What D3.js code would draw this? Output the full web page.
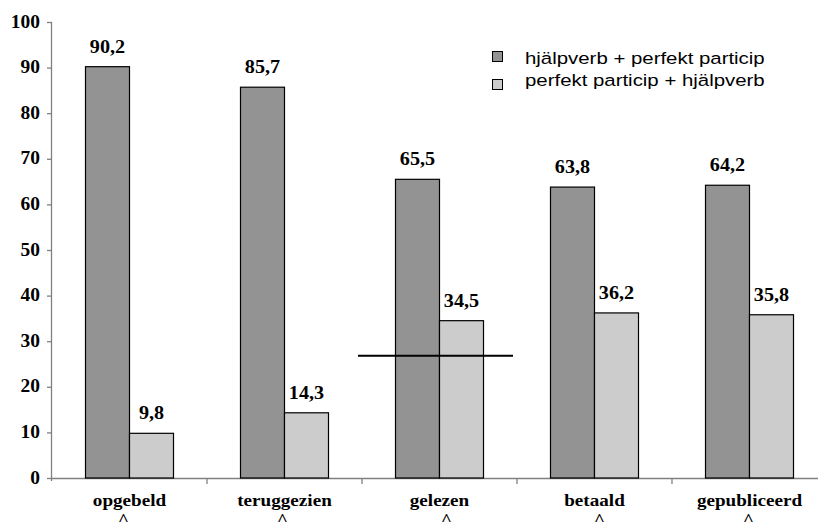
<!DOCTYPE html>
<html>
<head>
<meta charset="utf-8">
<script src="https://cdn.jsdelivr.net/npm/d3@7"></script>
<style>
  html, body { margin: 0; padding: 0; background: #fff; }
  svg { display: block; }
</style>
</head>
<body>
<svg id="chart" width="818" height="523"></svg>
<script>
// Word categories and the share (%) of each word order
const categories = ["opgebeld", "teruggezien", "gelezen", "betaald", "gepubliceerd"];
const seriesNames = ["hjälpverb + perfekt particip", "perfekt particip + hjälpverb"];
const auxFirst = [90.2, 85.7, 65.5, 63.8, 64.2];
const partFirst = [9.8, 14.3, 34.5, 36.2, 35.8];
const yTicks = [0, 10, 20, 30, 40, 50, 60, 70, 80, 90, 100];
// reference level drawn across the "gelezen" group
const refCategory = "gelezen";
const refValue = 26.8;

const colors = ["#939393", "#cccccc"];
const serif = "'Liberation Serif', 'Times New Roman', serif";
const sans = "'Liberation Sans', Arial, sans-serif";

const svg = d3.select("#chart");
const plotLeft = 52, plotTop = 22, plotBottom = 478, step = 155;
const plotRight = plotLeft + step * categories.length;

const x0 = d3.scaleBand().domain(categories).range([plotLeft, plotRight])
  .paddingInner(67 / 155).paddingOuter(67 / 310);
const x1 = d3.scaleBand().domain([0, 1]).range([0, x0.bandwidth()]);
const y = d3.scaleLinear().domain([0, 100]).range([plotBottom, plotTop]);

const fmt = v => d3.format(".1f")(v).replace(".", ",");

// text helper with a slight horizontal widening of the glyphs
function wtext(g, x, yy, str, opts) {
  return g.append("text")
    .attr("transform", `translate(${x},${yy}) scale(${opts.sx || 1.1},1)`)
    .attr("text-anchor", opts.anchor || "middle")
    .attr("font-family", opts.family || serif)
    .attr("font-weight", opts.weight || "bold")
    .attr("font-size", opts.size || 18)
    .attr("fill", "#000")
    .text(str);
}

// Y axis
const yAxis = svg.append("g")
  .attr("transform", `translate(${plotLeft},0)`)
  .call(d3.axisLeft(y).tickValues(yTicks).tickSize(5).tickFormat(""));
yAxis.select(".domain").attr("stroke", "#808080").attr("stroke-width", 1.3)
  .attr("d", `M-0.5,${plotTop}V${plotBottom + 3}`);
yAxis.selectAll(".tick line").attr("stroke", "#808080").attr("stroke-width", 1.3);
yTicks.forEach(t => wtext(svg, plotLeft - 12, y(t) + 5.5, String(t), { anchor: "end", size: 18, sx: 1.08 }));

// X axis line with ticks at group boundaries
const boundaries = categories.slice(1).map(c => x0(c) - x0.step() * x0.paddingInner() / 2);
svg.append("line").attr("x1", plotLeft).attr("x2", plotRight)
  .attr("y1", plotBottom + 0.5).attr("y2", plotBottom + 0.5)
  .attr("stroke", "#808080").attr("stroke-width", 1.3);
svg.selectAll(".xt").data(boundaries).join("line")
  .attr("x1", d => d).attr("x2", d => d).attr("y1", plotBottom).attr("y2", plotBottom + 6)
  .attr("stroke", "#808080").attr("stroke-width", 1.3);

// Bars
const data = categories.map((c, i) => ({ c, vals: [auxFirst[i], partFirst[i]] }));
const groups = svg.selectAll(".grp").data(data).join("g")
  .attr("transform", d => `translate(${x0(d.c)},0)`);
groups.selectAll("rect").data(d => d.vals).join("rect")
  .attr("x", (d, i) => x1(i))
  .attr("y", d => y(d))
  .attr("width", x1.bandwidth())
  .attr("height", d => y(0) - y(d))
  .attr("fill", (d, i) => colors[i])
  .attr("stroke", "#000")
  .attr("stroke-width", 1.2);
groups.each(function (d) {
  const g = d3.select(this);
  d.vals.forEach((v, i) => wtext(g, x1(i) + x1.bandwidth() / 2, y(v) - 14, fmt(v), { size: 18, sx: 1.12 }));
});

// Category labels with stress marks
const caretShift = [-6, -2, 7, 5, -1];
categories.forEach((c, i) => {
  const cx = x0(c) + x0.bandwidth() / 2;
  wtext(svg, cx, plotBottom + 28, c, { size: 16.5, sx: 1.16 });
  wtext(svg, cx + caretShift[i], plotBottom + 47, "^", { size: 17, sx: 1.1 });
});

// Reference line
const refX = x0(refCategory) - x0.step() * x0.paddingInner() / 2 - 4;
svg.append("line")
  .attr("x1", refX).attr("x2", refX + x0.step())
  .attr("y1", y(refValue)).attr("y2", y(refValue))
  .attr("stroke", "#000").attr("stroke-width", 2);

// Legend
const legend = svg.append("g").attr("transform", "translate(492,51)");
seriesNames.forEach((name, i) => {
  legend.append("rect").attr("x", 0.5).attr("y", i * 28 + 0.5).attr("width", 10).attr("height", 10)
    .attr("fill", colors[i]).attr("stroke", "#000").attr("stroke-width", 1);
  wtext(legend, 33, 13 + i * 22, name, { anchor: "start", family: sans, weight: "normal", size: 17, sx: 1.2 });
});
</script>
</body>
</html>
